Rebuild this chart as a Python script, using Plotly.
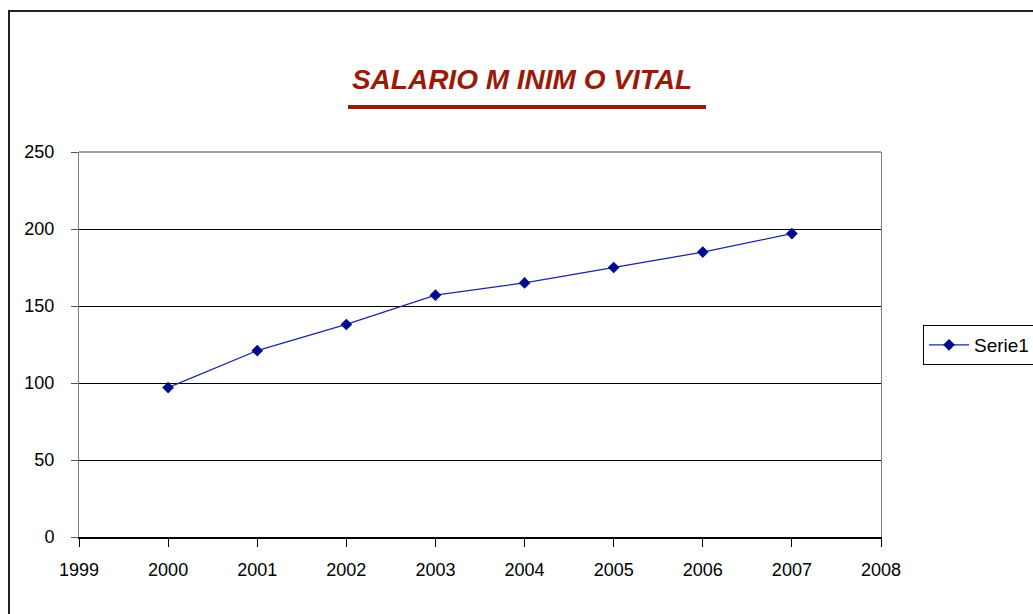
import plotly.graph_objects as go

years = [2000, 2001, 2002, 2003, 2004, 2005, 2006, 2007]
salario = [97, 121, 138, 157, 165, 175, 185, 197]
x_ticks = [1999, 2000, 2001, 2002, 2003, 2004, 2005, 2006, 2007, 2008]
y_ticks = [0, 50, 100, 150, 200, 250]
title_text = "SALARIO M INIM O VITAL"
series_name = "Serie1"

W, H = 1033, 614
L, T = 79, 152
R = W - 881
B = H - 537
pw, ph = W - L - R, H - T - B

def px(xp):  # page pixel -> paper x
    return (xp - L) / pw

def py(yp):  # page pixel -> paper y
    return (H - B - yp) / ph

fig = go.Figure()
fig.add_trace(go.Scatter(
    x=years, y=salario, name=series_name, mode="lines+markers",
    line=dict(color="#1a2a9a", width=1.3),
    marker=dict(symbol="diamond", size=9, color="#000a8c",
                line=dict(width=0)),
    showlegend=True,
))

fig.update_layout(
    width=W, height=H,
    margin=dict(l=L, r=R, t=T, b=B, autoexpand=False),
    paper_bgcolor="white", plot_bgcolor="white",
    font=dict(family="Liberation Sans, Arial, sans-serif", size=18, color="black"),
    title=dict(
        text="<b><i>" + title_text + "</i></b>",
        font=dict(family="Liberation Sans, Arial, sans-serif", size=28, color="#9a1a08"),
        x=522 / W, xanchor="center", xref="container",
        y=1 - 79 / H, yanchor="middle", yref="container",
    ),
    xaxis=dict(
        range=[1999, 2008], tickvals=x_ticks, ticktext=[str(v) for v in x_ticks],
        showgrid=False, zeroline=False,
        showline=True, linecolor="black", linewidth=1.5,
        ticks="outside", ticklen=8, tickcolor="black", tickwidth=1,
        ticklabelstandoff=8,
    ),
    yaxis=dict(
        range=[0, 250], tickvals=y_ticks,
        showgrid=True, gridcolor="black", gridwidth=1,
        zeroline=False,
        showline=True, linecolor="#808080", linewidth=1, mirror=True,
        ticks="outside", ticklen=7, tickcolor="#555555", tickwidth=1,
        ticklabelstandoff=13,
    ),
    legend=dict(
        x=px(923), y=py(325), xanchor="left", yanchor="top",
        bordercolor="black", borderwidth=1, bgcolor="white",
        font=dict(size=19), itemwidth=40,
    ),
    shapes=[
        # top border of plot area (grey)
        dict(type="line", xref="paper", yref="paper", x0=0, x1=1, y0=1, y1=1,
             line=dict(color="#808080", width=1.5)),
        # title underline
        dict(type="rect", xref="paper", yref="paper",
             x0=px(348), x1=px(706), y0=py(109), y1=py(105),
             fillcolor="#9a1a08", line=dict(width=0)),
        # outer chart border
        dict(type="rect", xref="paper", yref="paper",
             x0=px(9), x1=px(1045), y0=py(625), y1=py(11),
             line=dict(color="#222222", width=2), fillcolor="rgba(0,0,0,0)",
             layer="below"),
    ],
)

fig.write_html(
    "out.html",
    config={"displayModeBar": False},
    post_script="document.body.style.margin='0';"
                "document.documentElement.style.overflow='hidden';",
)
